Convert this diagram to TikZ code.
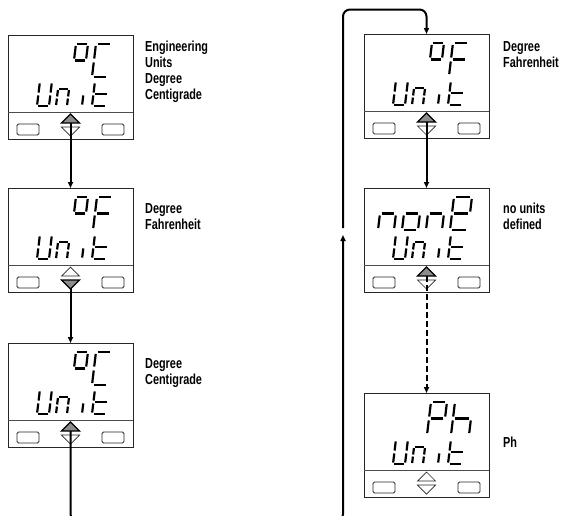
\documentclass[tikz,border=0pt]{standalone}
\usepackage{fontspec}
\newfontfamily\lblfont{Liberation Sans}[FakeStretch=0.75]
\usetikzlibrary{arrows.meta}

\tikzset{
  lcdbox/.style={draw=black!85, line width=0.9pt, minimum width=125pt, minimum height=104pt, inner sep=0pt, outer sep=0pt},
  seg/.style={line width=2.2pt, line cap=butt},
  btn/.style={draw=black!85, line width=0.8pt, rounded corners=1.5pt},
  keyoff/.style={draw=black!85, line width=0.7pt, fill=white},
  keyon/.style={draw=black, line width=1.3pt, fill=black!45},
  conn/.style={line width=2pt, -{Triangle[length=6pt,width=5pt]}},
  lbl/.style={font=\lblfont\bfseries\fontsize{14.5}{16}\selectfont, align=left, anchor=north west, inner sep=0pt},
}

\newcommand{\segchar}[5]{%
  \begin{scope}[shift={(#1,#2)}, x=#3pt, y=#4pt, xslant=0.12]
    \coordinate (sa1) at (0.12,1); \coordinate (sa2) at (0.88,1);
    \coordinate (sb1) at (1,0.94); \coordinate (sb2) at (1,0.56);
    \coordinate (sc1) at (1,0.44); \coordinate (sc2) at (1,0.06);
    \coordinate (sd1) at (0.12,0); \coordinate (sd2) at (0.88,0);
    \coordinate (se1) at (0,0.06); \coordinate (se2) at (0,0.44);
    \coordinate (sf1) at (0,0.56); \coordinate (sf2) at (0,0.94);
    \coordinate (sg1) at (0.12,0.5); \coordinate (sg2) at (0.88,0.5);
    \foreach \s in {#5} {\draw[seg] (s\s1) -- (s\s2);}
  \end{scope}}
\newcommand{\topchar}[3]{\segchar{#1}{42}{#2}{33}{#3}}
\newcommand{\unitrow}{%
  \segchar{29}{71}{12}{24}{b,c,d,e,f}
  \segchar{48}{71}{11}{17}{a,b,c,e,f}
  \segchar{74}{71}{12}{24}{e}
  \segchar{84}{71}{15}{24}{f,e,g,d}}

\newcommand{\lcd}[6]{%
  \begin{scope}[shift={(#2,#3)}]
    \node[lcdbox, anchor=north west] (#1) at (0,0) {};
    \draw[black!70, line width=0.8pt] (0,77) -- (125,77);
    \draw[btn] (9,89) rectangle (31,100);
    \draw[btn] (94,89) rectangle (116,100);
    \draw[#4] (53.5,88) -- (62.5,79) -- (71.5,88) -- cycle;
    \draw[#5] (53.5,92) -- (62.5,101) -- (71.5,92) -- cycle;
    \coordinate (#1-key) at (62.5,88);
    \coordinate (#1-dn) at (62.5,100);
    #6
    \unitrow
  \end{scope}}

\begin{document}
\begin{tikzpicture}[x=1pt,y=-1pt]
\useasboundingbox (0,0) rectangle (583,515);
\clip (0,0) rectangle (583,515);

\lcd{L1}{8}{35}{keyon}{keyoff}{\topchar{64}{12}{a,b,f,g}\topchar{84}{16}{a,f,e,d}}
\lcd{L2}{8}{188}{keyoff}{keyon}{\topchar{64}{12}{a,b,f,g}\topchar{85}{16}{a,f,e,g}}
\lcd{L3}{8}{343}{keyon}{keyoff}{\topchar{64}{12}{a,b,f,g}\topchar{84}{16}{a,f,e,d}}
\lcd{R1}{364}{34}{keyon}{keyoff}{\topchar{64}{12}{a,b,f,g}\topchar{85}{16}{a,f,e,g}}
\lcd{R2}{364}{188}{keyon}{keyoff}{\topchar{14}{16}{g,c,e}\topchar{38}{16}{g,c,d,e}\topchar{62}{16}{g,c,e}\topchar{86}{18}{a,b,f,g,e,d}}
\lcd{R3}{364}{393}{keyoff}{keyoff}{\topchar{63}{16}{a,b,f,g,e}\topchar{87}{18}{f,e,g,c}}

\node[lbl] (t1) at (145,41) {Engineering\\Units\\Degree\\Centigrade};
\node[lbl] (t2) at (145,203) {Degree\\Fahrenheit};
\node[lbl] (t3) at (145,358) {Degree\\Centigrade};
\node[lbl] (t4) at (503,41) {Degree\\Fahrenheit};
\node[lbl] (t5) at (503,203) {no units\\defined};
\node[lbl] (t6) at (503,437) {Ph};

\coordinate (loopB) at (343,521);
\coordinate (loopM) at (343,235);
\coordinate (loopN) at (343,228);
\coordinate (loopT) at (343,9.5);

\draw[conn] (L1-key) -- (L2.north);
\draw[conn] (L2-dn) -- (L3.north);
\draw[conn] (R1-key) -- (R2.north);
\draw[conn, dash pattern=on 6pt off 3pt] (R2-key) -- (R3.north);
\draw[conn, rounded corners=7pt] (L3-key) -- (L3-key |- loopB) -- (loopB) -- (loopM);
\draw[conn, rounded corners=7pt] (loopN) -- (loopT) -- (loopT -| R1.north) -- (R1.north);
\end{tikzpicture}
\end{document}
